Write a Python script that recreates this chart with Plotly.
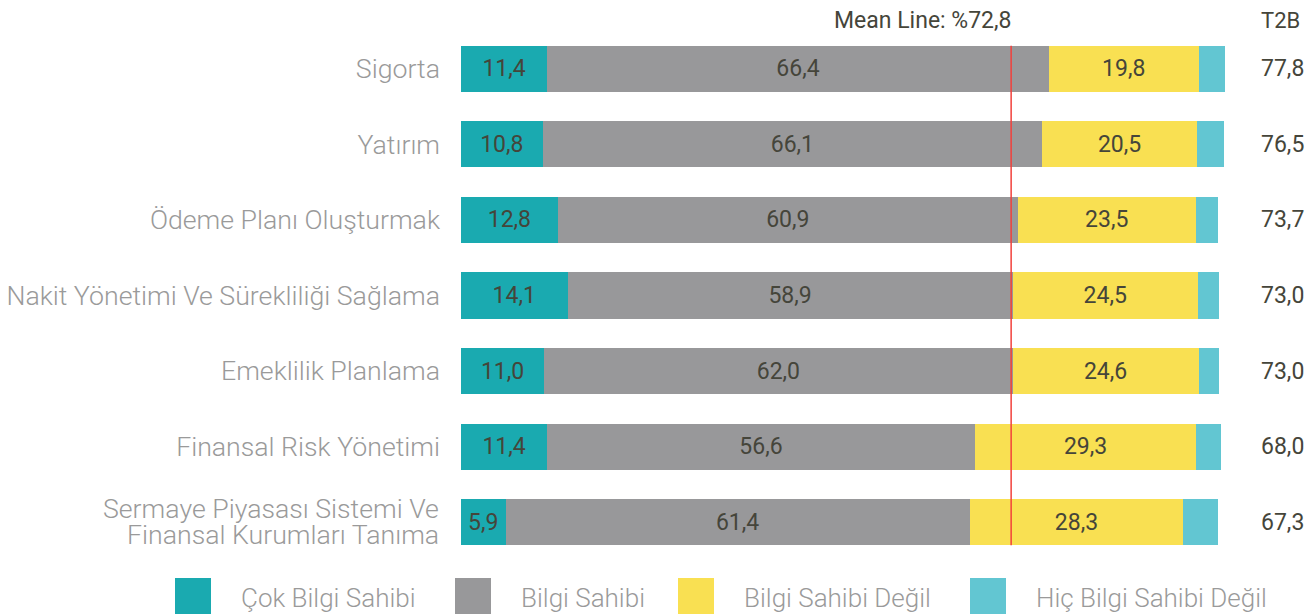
import plotly.graph_objects as go

categories = ["Sigorta", "Yatırım", "Ödeme Planı Oluşturmak",
              "Nakit Yönetimi Ve Sürekliliği Sağlama", "Emeklilik Planlama",
              "Finansal Risk Yönetimi",
              "Sermaye Piyasası Sistemi Ve<br>Finansal Kurumları Tanıma"]
cok_bilgi = [11.4, 10.8, 12.8, 14.1, 11.0, 11.4, 5.9]
bilgi = [66.4, 66.1, 60.9, 58.9, 62.0, 56.6, 61.4]
bilgi_degil = [19.8, 20.5, 23.5, 24.5, 24.6, 29.3, 28.3]
hic_bilgi = [3.6, 3.6, 3.0, 2.8, 2.7, 3.3, 4.6]
t2b = [77.8, 76.5, 73.7, 73.0, 73.0, 68.0, 67.3]
mean_line = 72.8

series_names = ["Çok Bilgi Sahibi", "Bilgi Sahibi", "Bilgi Sahibi Değil", "Hiç Bilgi Sahibi Değil"]
colors = ["#1AAAB0", "#98989A", "#F9E052", "#62C6D2"]

def fmt(v):
    return f"{v:.1f}".replace(".", ",")

W, H = 1315, 614
ml, mr, mt, mb = 461, 90, 31, 54
pw, ph = W - ml - mr, H - mt - mb
TXT = "#45453a"
LBL = dict(family="Roboto", size=26.7, color="#9a9a9a", weight=300)

fig = go.Figure()
for name, vals, col, show in zip(series_names, [cok_bilgi, bilgi, bilgi_degil, hic_bilgi], colors,
                                 [True, True, True, False]):
    fig.add_trace(go.Bar(
        y=categories, x=vals, orientation="h", name=name,
        marker=dict(color=col, line=dict(width=0)),
        width=0.61,
        text=[fmt(v) for v in vals] if show else None,
        textposition="inside" if show else "none",
        insidetextanchor="middle",
        constraintext="none",
        textfont=dict(family="Roboto", size=23, color=TXT),
        hoverinfo="x+name",
        showlegend=False,
    ))

fig.add_shape(type="line", xref="x", yref="y", x0=mean_line, x1=mean_line,
              y0=-0.305, y1=6.305, line=dict(color="#F2413B", width=1.5))

annotations = [
    dict(x=mean_line, xref="x", y=(H - 20 - mb) / ph, yref="paper", text="Mean Line: %" + fmt(mean_line),
         showarrow=False, xanchor="right", yanchor="middle", xshift=3,
         font=dict(family="Roboto", size=23, color=TXT)),
    dict(x=(1280 - ml) / pw, xref="paper", y=(H - 20 - mb) / ph, yref="paper", text="T2B",
         showarrow=False, xanchor="center", yanchor="middle",
         font=dict(family="Roboto", size=22, color=TXT)),
]
for c, v in zip(categories, t2b):
    annotations.append(dict(x=(1282 - ml) / pw, xref="paper", y=c, yref="y", text=fmt(v),
                            showarrow=False, xanchor="center", yanchor="middle",
                            font=dict(family="Roboto", size=23, color=TXT)))

# category labels: single-line ones via ticks, multi-line ones drawn with tighter spacing
ticktext = []
for c in categories:
    parts = c.split("<br>")
    if len(parts) == 1:
        ticktext.append(c)
    else:
        ticktext.append("")
        n = len(parts)
        for i, p in enumerate(parts):
            annotations.append(dict(x=0, xref="paper", y=c, yref="y", text=p, showarrow=False,
                                    xanchor="right", yanchor="middle", xshift=-20,
                                    yshift=(n - 1) * 13 - i * 26, font=LBL))

# legend drawn manually
leg_x = [175, 455, 678, 970]
for lx, name, col in zip(leg_x, series_names, colors):
    x0 = (lx - ml) / pw
    x1 = (lx + 36 - ml) / pw
    y0 = (H - 614 - mb) / ph
    y1 = (H - 578 - mb) / ph
    fig.add_shape(type="rect", xref="paper", yref="paper", x0=x0, x1=x1, y0=y0, y1=y1,
                  fillcolor=col, line=dict(width=0))
    annotations.append(dict(x=(lx + 64 - ml) / pw, xref="paper", y=(H - 598 - mb) / ph, yref="paper",
                            text=name, showarrow=False, xanchor="left", yanchor="middle",
                            font=dict(family="Roboto", size=26, color="#9a9a9a", weight=300)))

fig.update_layout(
    barmode="stack",
    width=W, height=H,
    margin=dict(l=ml, r=mr, t=mt, b=mb, autoexpand=False),
    plot_bgcolor="white", paper_bgcolor="white",
    xaxis=dict(range=[0, 101.1], visible=False, fixedrange=True),
    yaxis=dict(autorange="reversed", showgrid=False, zeroline=False, showline=False,
               ticks="", ticklabelstandoff=20, tickmode="array",
               tickvals=categories, ticktext=ticktext, tickfont=LBL),
    annotations=annotations,
    showlegend=False,
    bargap=0.39,
)

fig.write_html("out.html", config={"displayModeBar": False},
               post_script="document.body.style.margin='0';document.body.style.overflow='hidden';")
